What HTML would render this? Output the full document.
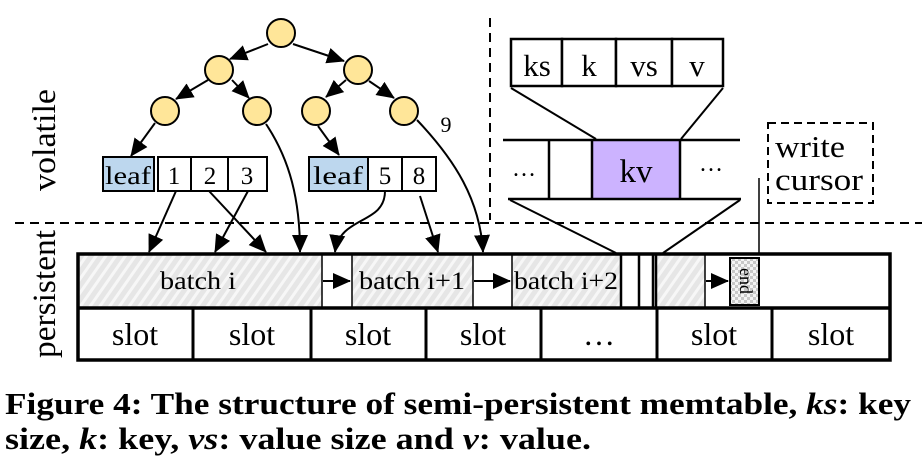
<!DOCTYPE html>
<html><head><meta charset="utf-8"><style>
html,body{margin:0;padding:0;background:#fff;}
svg{display:block;font-family:"Liberation Serif","Times New Roman",serif;}
svg text{font-family:"Liberation Serif","Times New Roman",serif;}
</style></head><body>
<svg width="922" height="465" viewBox="0 0 922 465" xmlns="http://www.w3.org/2000/svg" font-family="'Liberation Serif', 'Times New Roman', serif">
<defs>
<pattern id="h" width="8" height="8" patternUnits="userSpaceOnUse" patternTransform="rotate(35)">
<rect width="8" height="8" fill="#e6e6e6"/><rect width="3" height="8" fill="#f7f7f7"/>
</pattern>
<pattern id="c" width="6" height="6" patternUnits="userSpaceOnUse">
<rect width="6" height="6" fill="#f4f4f4"/><rect width="3" height="3" fill="#c8c8c8"/><rect x="3" y="3" width="3" height="3" fill="#c8c8c8"/>
</pattern>
<marker id="b" markerWidth="18" markerHeight="18" refX="17" refY="9" orient="auto" markerUnits="userSpaceOnUse" viewBox="0 0 18 18">
<path d="M0,1 L18,9 L0,17 z" fill="#000"/></marker>
</defs>

<line x1="15" y1="223" x2="922" y2="223" stroke="#000" stroke-width="2" stroke-dasharray="9,6"/>
<line x1="490" y1="18" x2="490" y2="220" stroke="#000" stroke-width="2" stroke-dasharray="9,6"/>

<text transform="translate(55,140) rotate(-90)" font-size="33" text-anchor="middle" textLength="102" lengthAdjust="spacingAndGlyphs">volatile</text>
<text transform="translate(55,294) rotate(-90)" font-size="33" text-anchor="middle" textLength="128" lengthAdjust="spacingAndGlyphs">persistent</text>

<g stroke="#000" stroke-width="2" fill="none" marker-end="url(#b)">
<line x1="268" y1="44" x2="230" y2="59"/>
<line x1="293" y1="44" x2="344" y2="61"/>
<line x1="208" y1="80" x2="176" y2="99"/>
<line x1="232" y1="80" x2="249" y2="98"/>
<line x1="346" y1="80" x2="326" y2="97"/>
<line x1="369" y1="81" x2="394" y2="98"/>
<line x1="155" y1="123" x2="131" y2="156"/>
<line x1="318" y1="126" x2="339" y2="155"/>
</g>
<g fill="#ffe699" stroke="#000" stroke-width="2">
<circle cx="281" cy="33" r="14"/>
<circle cx="219" cy="70" r="14"/><circle cx="358" cy="70" r="14"/>
<circle cx="165" cy="111" r="14"/><circle cx="257" cy="111" r="14"/>
<circle cx="316" cy="111" r="14"/><circle cx="404" cy="111" r="14"/>
</g>
<text x="446" y="132" font-size="22" text-anchor="middle">9</text>

<g stroke="#000" stroke-width="2">
<rect x="103" y="157" width="51" height="34" fill="#bdd7ee"/>
<rect x="158" y="157" width="33" height="34" fill="#fff"/>
<rect x="191" y="157" width="37" height="34" fill="#fff"/>
<rect x="228" y="157" width="39" height="34" fill="#fff"/>
<rect x="309" y="157" width="59" height="34" fill="#bdd7ee"/>
<rect x="368" y="157" width="34" height="34" fill="#fff"/>
<rect x="402" y="157" width="34" height="34" fill="#fff"/>
</g>
<g font-size="25" text-anchor="middle">
<text x="128" y="184" textLength="46" lengthAdjust="spacingAndGlyphs">leaf</text><text x="174" y="184">1</text><text x="210" y="184">2</text><text x="247" y="184">3</text>
<text x="338" y="184" textLength="50" lengthAdjust="spacingAndGlyphs">leaf</text><text x="385" y="184">5</text><text x="419" y="184">8</text>
</g>

<g stroke="#000" stroke-width="2" fill="none" marker-end="url(#b)">
<line x1="176" y1="191" x2="149" y2="252"/>
<line x1="209" y1="191" x2="266" y2="252"/>
<line x1="248" y1="191" x2="215" y2="252"/>
<path d="M266,124 C290,160 300,200 300,252"/>
<path d="M385,191 C385,225 340,215 335,252"/>
<line x1="420" y1="196" x2="438" y2="252"/>
<path d="M417,120 C455,160 480,200 483,252"/>
</g>

<g stroke="#000" stroke-width="2.5" fill="#fff">
<rect x="511" y="39" width="51" height="47"/>
<rect x="562" y="39" width="54" height="47"/>
<rect x="616" y="39" width="56" height="47"/>
<rect x="672" y="39" width="51" height="47"/>
</g>
<g font-size="31" text-anchor="middle">
<text x="537" y="76">ks</text><text x="589" y="76">k</text><text x="644" y="76">vs</text><text x="697" y="76">v</text>
</g>
<g stroke="#000" stroke-width="2" fill="none">
<line x1="511" y1="88" x2="596" y2="139"/>
<line x1="723" y1="88" x2="681" y2="139"/>
</g>
<rect x="592" y="140" width="88" height="59" fill="#ccb3ff"/>
<g stroke="#000" stroke-width="2.5">
<line x1="503" y1="140" x2="740" y2="140"/>
<line x1="508" y1="199" x2="741" y2="199"/>
<line x1="549" y1="140" x2="549" y2="199"/>
<line x1="592" y1="140" x2="592" y2="199"/>
<line x1="680" y1="140" x2="680" y2="199"/>
</g>
<text x="636" y="182" font-size="33" text-anchor="middle">kv</text>
<text x="524" y="176" font-size="24" text-anchor="middle">…</text>
<text x="711" y="171" font-size="24" text-anchor="middle">…</text>
<g stroke="#000" stroke-width="2" fill="none">
<line x1="510" y1="200" x2="616" y2="253"/>
<line x1="740" y1="200" x2="663" y2="253"/>
</g>
<rect x="768" y="123" width="105" height="80" fill="none" stroke="#000" stroke-width="2" stroke-dasharray="8,5"/>
<text x="775" y="157" font-size="31" textLength="70" lengthAdjust="spacingAndGlyphs">write</text>
<text x="775" y="190" font-size="31" textLength="88" lengthAdjust="spacingAndGlyphs">cursor</text>
<line x1="759" y1="178" x2="759" y2="256" stroke="#000" stroke-width="1.5"/>

<rect x="78" y="254" width="812" height="53" fill="#fff"/>
<rect x="78" y="254" width="244" height="53" fill="url(#h)"/>
<rect x="352" y="254" width="121" height="53" fill="url(#h)"/>
<rect x="512" y="254" width="109" height="53" fill="url(#h)"/>
<rect x="656" y="254" width="49" height="53" fill="url(#h)"/>
<rect x="730" y="258" width="29" height="47" fill="url(#c)" stroke="#000" stroke-width="2"/>
<g stroke="#000" stroke-width="1.5">
<line x1="322" y1="254" x2="322" y2="307"/><line x1="352" y1="254" x2="352" y2="307"/>
<line x1="473" y1="254" x2="473" y2="307"/><line x1="512" y1="254" x2="512" y2="307"/>
<line x1="705" y1="254" x2="705" y2="307"/>
</g>
<g stroke="#000" stroke-width="2.5">
<line x1="621" y1="254" x2="621" y2="307"/><line x1="639" y1="254" x2="639" y2="307"/>
<line x1="653" y1="254" x2="653" y2="307"/><line x1="656" y1="254" x2="656" y2="307"/>
</g>
<g stroke="#000" stroke-width="2" marker-end="url(#b)">
<line x1="323" y1="281" x2="350" y2="281"/>
<line x1="474" y1="281" x2="510" y2="281"/>
<line x1="706" y1="281" x2="728" y2="281"/>
</g>
<g font-size="25" text-anchor="middle">
<text x="198" y="289" textLength="76" lengthAdjust="spacingAndGlyphs">batch i</text>
<text x="412" y="289" textLength="106" lengthAdjust="spacingAndGlyphs">batch i+1</text>
<text x="566" y="289" textLength="104" lengthAdjust="spacingAndGlyphs">batch i+2</text>
</g>
<text transform="translate(745,281) rotate(90)" font-size="18" text-anchor="middle" dy="5">end</text>

<rect x="78" y="254" width="812" height="106" fill="none" stroke="#000" stroke-width="3.5"/>
<line x1="78" y1="308" x2="890" y2="308" stroke="#000" stroke-width="3.5"/>
<g stroke="#000" stroke-width="3">
<line x1="193" y1="308" x2="193" y2="360"/><line x1="311" y1="308" x2="311" y2="360"/>
<line x1="426" y1="308" x2="426" y2="360"/><line x1="541" y1="308" x2="541" y2="360"/>
<line x1="657" y1="308" x2="657" y2="360"/><line x1="772" y1="308" x2="772" y2="360"/>
</g>
<g font-size="32" text-anchor="middle">
<text x="135" y="345">slot</text><text x="252" y="345">slot</text><text x="368" y="345">slot</text>
<text x="483" y="345">slot</text><text x="599" y="345">…</text><text x="714" y="345">slot</text><text x="831" y="345">slot</text>
</g>

<text x="5" y="414" font-size="31" font-weight="bold" textLength="906" lengthAdjust="spacingAndGlyphs">Figure 4: The structure of semi-persistent memtable, <tspan font-style="italic">ks</tspan>: key</text>
<text x="5" y="449" font-size="31" font-weight="bold" textLength="586" lengthAdjust="spacingAndGlyphs">size, <tspan font-style="italic">k</tspan>: key, <tspan font-style="italic">vs</tspan>: value size and <tspan font-style="italic">v</tspan>: value.</text>
</svg>
</body></html>
